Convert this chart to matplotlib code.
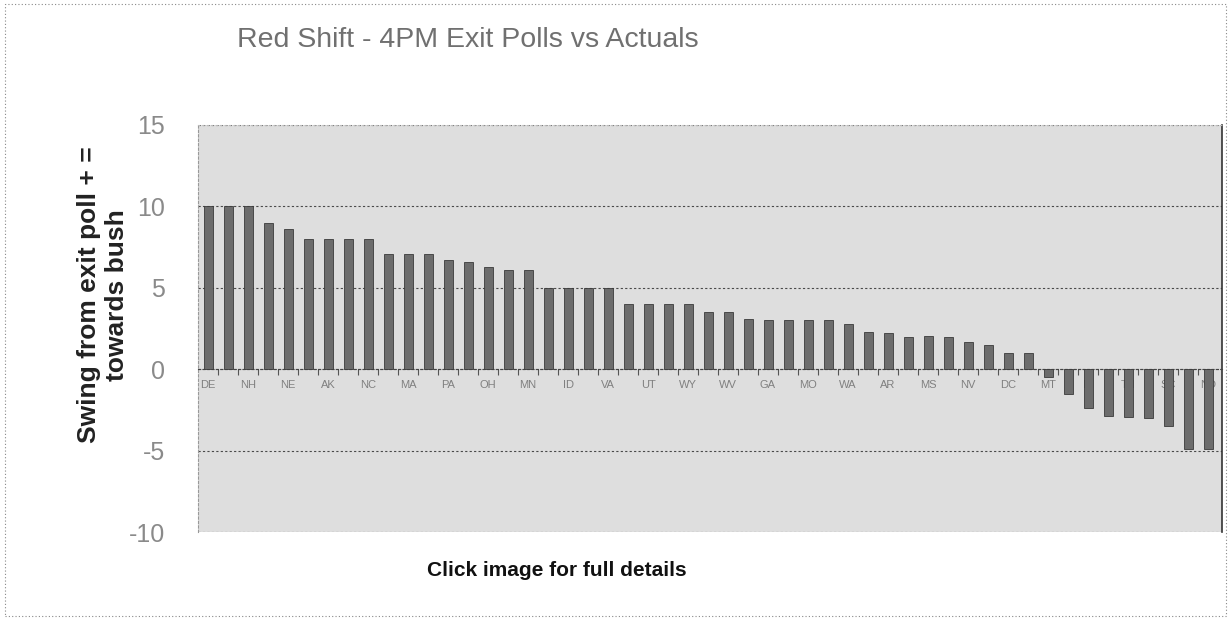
import numpy as np
import matplotlib.pyplot as plt
from matplotlib.patches import Rectangle

plt.rcParams['font.family'] = ['Liberation Sans', 'DejaVu Sans']
plt.rcParams['axes.unicode_minus'] = False

# swing from exit poll to actual result, one bar per state (sorted)
swing = [10, 10, 10, 9, 8.6, 8, 8, 8, 8, 7.1, 7.1, 7.1, 6.7, 6.6, 6.3, 6.1, 6.1,
         5, 5, 5, 5, 4, 4, 4, 4, 3.5, 3.5, 3.1, 3, 3, 3, 3, 2.75, 2.3,
         2.2, 2, 2.05, 2, 1.7, 1.5, 1, 1, -0.5, -1.5, -2.4, -2.9, -2.95, -3,
         -3.5, -4.9, -4.9]

# only every other category is labelled in the chart
tick_labels = ["DE", "NH", "NE", "AK", "NC", "MA", "PA", "OH", "MN", "ID",
               "VA", "UT", "WY", "WV", "GA", "MO", "WA", "AR", "MS", "NV",
               "DC", "MT", "IN", "TN", "SC", "ND"]
yticks = [15, 10, 5, 0, -5, -10]

fig = plt.figure(figsize=(12.31, 6.2), dpi=100)
ax = fig.add_axes([198 / 1231, 1 - 532 / 620, (1222 - 198) / 1231, (532 - 125) / 620])

x = np.arange(len(swing))
ax.bar(x, swing, width=0.45, color="#6c6c6c", edgecolor="#3a3a3a",
       linewidth=0.6, zorder=3)

ax.set_xlim(-0.5, 50.7)
ax.set_ylim(-10, 15)
ax.set_facecolor("#dedede")
ax.set_axisbelow(True)
ax.yaxis.grid(True, linestyle=(0, (2, 2)), color="#4a4a4a", linewidth=0.8)

ax.set_yticks(yticks)
ax.tick_params(axis="y", length=0, pad=24, labelsize=18, labelcolor="#8a8a8a")

ax.set_xticks(np.arange(0, len(swing), 2))
ax.set_xticklabels(tick_labels)
ax.set_xticks(np.arange(0.5, len(swing) - 1, 1), minor=True)
ax.tick_params(axis="x", which="major", length=0, pad=8, labelsize=8,
               labelcolor="#808080")
ax.tick_params(axis="x", which="minor", length=4, color="#555555", width=0.8)

ax.spines["bottom"].set_position(("data", 0))
ax.spines["bottom"].set_linestyle((0, (2, 2)))
ax.spines["bottom"].set_color("#444444")
ax.spines["left"].set_linestyle((0, (2, 2)))
ax.spines["left"].set_color("#999999")
ax.spines["top"].set_linestyle((0, (1, 3)))
ax.spines["top"].set_color("#bbbbbb")
ax.spines["right"].set_color("#333333")
ax.spines["right"].set_linewidth(1.2)

fig.text(0.38, 0.935, "Red Shift - 4PM Exit Polls vs Actuals", ha="center",
         va="center", fontsize=20.5, color="#707070")
fig.text(103 / 1231, 1 - 295 / 620, "Swing from exit poll + =\ntowards bush",
         rotation=90, ha="center", va="center", fontsize=19, fontweight="bold",
         color="#222222", linespacing=1.25)
fig.text(557 / 1231, 1 - 570 / 620, "Click image for full details", ha="center",
         va="center", fontsize=15, fontweight="bold", color="#111111")

fig.patches.append(Rectangle((0.004, 0.006), 0.992, 0.988, transform=fig.transFigure,
                             fill=False, edgecolor="#888888", linestyle=(0, (1, 2)),
                             linewidth=0.8))

fig.savefig("out.png", dpi=100)
